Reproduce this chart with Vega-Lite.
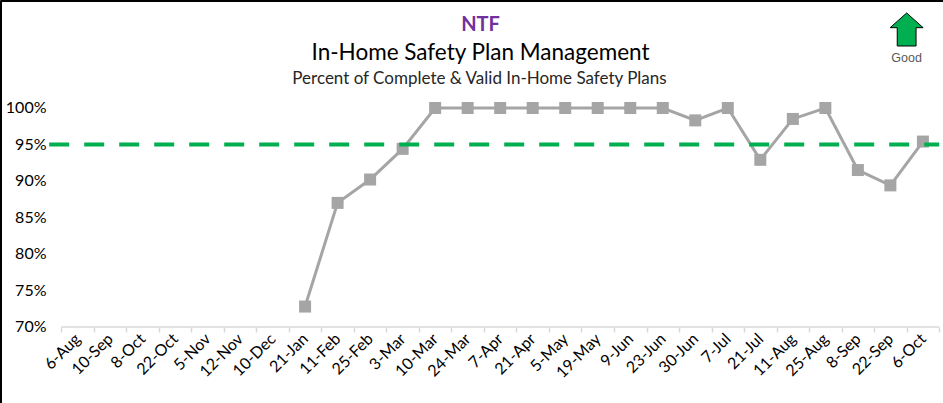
{
  "$schema": "https://vega.github.io/schema/vega-lite/v6.json",
  "width": 943,
  "height": 403,
  "autosize": {"type": "none"},
  "padding": 0,
  "background": "white",
  "config": {"view": {"stroke": null}, "font": "Lato"},
  "title": {
    "text": "NTF",
    "subtitle": "In-Home Safety Plan Management",
    "anchor": "middle",
    "frame": "group",
    "orient": "top",
    "offset": -64,
    "dx": 9,
    "font": "Lato",
    "fontSize": 20,
    "fontWeight": "bold",
    "color": "#7030A0",
    "subtitleFont": "Lato",
    "subtitleFontSize": 22.5,
    "subtitleColor": "#000000",
    "subtitlePadding": 7
  },
  "data": {
    "values": [
      {"week": "6-Aug", "pct": null},
      {"week": "10-Sep", "pct": null},
      {"week": "8-Oct", "pct": null},
      {"week": "22-Oct", "pct": null},
      {"week": "5-Nov", "pct": null},
      {"week": "12-Nov", "pct": null},
      {"week": "10-Dec", "pct": null},
      {"week": "21-Jan", "pct": 0.728},
      {"week": "11-Feb", "pct": 0.870},
      {"week": "25-Feb", "pct": 0.902},
      {"week": "3-Mar", "pct": 0.944},
      {"week": "10-Mar", "pct": 1.0},
      {"week": "24-Mar", "pct": 1.0},
      {"week": "7-Apr", "pct": 1.0},
      {"week": "21-Apr", "pct": 1.0},
      {"week": "5-May", "pct": 1.0},
      {"week": "19-May", "pct": 1.0},
      {"week": "9-Jun", "pct": 1.0},
      {"week": "23-Jun", "pct": 1.0},
      {"week": "30-Jun", "pct": 0.983},
      {"week": "7-Jul", "pct": 1.0},
      {"week": "21-Jul", "pct": 0.929},
      {"week": "11-Aug", "pct": 0.985},
      {"week": "25-Aug", "pct": 1.0},
      {"week": "8-Sep", "pct": 0.915},
      {"week": "22-Sep", "pct": 0.894},
      {"week": "6-Oct", "pct": 0.954}
    ]
  },
  "layer": [
    {
      "mark": {
        "type": "line",
        "color": "#A5A5A5",
        "strokeWidth": 3,
        "point": {"shape": "square", "size": 144, "filled": true, "color": "#A5A5A5", "opacity": 1}
      },
      "encoding": {
        "x": {
          "field": "week",
          "type": "nominal",
          "scale": {
            "domain": ["6-Aug","10-Sep","8-Oct","22-Oct","5-Nov","12-Nov","10-Dec","21-Jan","11-Feb","25-Feb","3-Mar","10-Mar","24-Mar","7-Apr","21-Apr","5-May","19-May","9-Jun","23-Jun","30-Jun","7-Jul","21-Jul","11-Aug","25-Aug","8-Sep","22-Sep","6-Oct"],
            "paddingInner": 0,
            "paddingOuter": 1.049,
            "align": 0.941
          },
          "axis": {
            "orient": "bottom",
            "offset": -76,
            "domain": false,
            "grid": false,
            "ticks": true,
            "tickBand": "extent",
            "tickColor": "#D9D9D9",
            "tickWidth": 1.5,
            "tickSize": 5,
            "labelAngle": -45,
            "labelAlign": "right",
            "labelBaseline": "middle",
            "labelPadding": 4,
            "labelFont": "Lato",
            "labelFontSize": 16,
            "labelColor": "#000000",
            "title": null
          }
        },
        "y": {
          "field": "pct",
          "type": "quantitative",
          "scale": {"domain": [0.5959, 1.1479], "nice": false, "zero": false},
          "axis": {
            "orient": "left",
            "values": [0.7, 0.75, 0.8, 0.85, 0.9, 0.95, 1.0],
            "format": ".0%",
            "domain": true,
            "domainColor": "#000000",
            "domainWidth": 3,
            "ticks": false,
            "tickSize": 0,
            "grid": false,
            "labelPadding": -46,
            "labelAlign": "right",
            "labelFont": "Lato",
            "labelFontSize": 16,
            "labelColor": "#000000",
            "title": null
          }
        }
      }
    },
    {
      "data": {"values": [{"base": 0.7}]},
      "mark": {"type": "rule", "color": "#D9D9D9", "strokeWidth": 1.5},
      "encoding": {
        "x": {"datum": "6-Aug", "bandPosition": 0, "axis": null,
          "scale": {
            "domain": ["6-Aug","10-Sep","8-Oct","22-Oct","5-Nov","12-Nov","10-Dec","21-Jan","11-Feb","25-Feb","3-Mar","10-Mar","24-Mar","7-Apr","21-Apr","5-May","19-May","9-Jun","23-Jun","30-Jun","7-Jul","21-Jul","11-Aug","25-Aug","8-Sep","22-Sep","6-Oct"],
            "paddingInner": 0, "paddingOuter": 1.049, "align": 0.941}},
        "x2": {"datum": "6-Oct", "bandPosition": 1},
        "y": {"field": "base", "type": "quantitative", "axis": null,
          "scale": {"domain": [0.5959, 1.1479], "nice": false, "zero": false}}
      }
    },
    {
      "data": {"values": [{"target": 0.95}]},
      "mark": {"type": "rule", "color": "#00B050", "strokeWidth": 4, "strokeDash": [20, 15]},
      "encoding": {
        "x": {"datum": "6-Aug", "bandPosition": 0,
          "scale": {
            "domain": ["6-Aug","10-Sep","8-Oct","22-Oct","5-Nov","12-Nov","10-Dec","21-Jan","11-Feb","25-Feb","3-Mar","10-Mar","24-Mar","7-Apr","21-Apr","5-May","19-May","9-Jun","23-Jun","30-Jun","7-Jul","21-Jul","11-Aug","25-Aug","8-Sep","22-Sep","6-Oct"],
            "paddingInner": 0, "paddingOuter": 1.049, "align": 0.941},
          "axis": {
            "orient": "top",
            "offset": 0,
            "domain": true,
            "domainColor": "#000000",
            "domainWidth": 3,
            "ticks": false,
            "labels": false,
            "grid": false,
            "title": "Percent of Complete & Valid In-Home Safety Plans",
            "titleFont": "Lato",
            "titleFontSize": 17,
            "titleFontWeight": "normal",
            "titleColor": "#262626",
            "titleX": 479,
            "titleY": 83,
            "titleAlign": "center",
            "titleBaseline": "alphabetic",
            "titleAngle": 0
          }
        },
        "xOffset": {"value": -12},
        "x2": {"datum": "6-Oct", "bandPosition": 1},
        "x2Offset": {"value": 4},
        "y": {"field": "target", "type": "quantitative", "axis": null,
          "scale": {"domain": [0.5959, 1.1479], "nice": false, "zero": false}}
      }
    },
    {
      "data": {"values": [{"note": "Good", "arrowLevel": 1.1075, "noteLevel": 1.0685}]},
      "mark": {
        "type": "point",
        "shape": "M 0 -1 L 1 -0.11 L 0.57 -0.11 L 0.57 1 L -0.57 1 L -0.57 -0.11 L -1 -0.11 Z",
        "size": 1089,
        "filled": true,
        "fill": "#00B050",
        "stroke": "#000000",
        "strokeWidth": 1,
        "opacity": 1
      },
      "encoding": {
        "x": {"datum": "6-Oct", "bandPosition": 0, "axis": null,
          "scale": {
            "domain": ["6-Aug","10-Sep","8-Oct","22-Oct","5-Nov","12-Nov","10-Dec","21-Jan","11-Feb","25-Feb","3-Mar","10-Mar","24-Mar","7-Apr","21-Apr","5-May","19-May","9-Jun","23-Jun","30-Jun","7-Jul","21-Jul","11-Aug","25-Aug","8-Sep","22-Sep","6-Oct"],
            "paddingInner": 0, "paddingOuter": 1.049, "align": 0.941}},
        "y": {"field": "arrowLevel", "type": "quantitative", "axis": null,
          "scale": {"domain": [0.5959, 1.1479], "nice": false, "zero": false}}
      }
    },
    {
      "data": {"values": [{"note": "Good", "arrowLevel": 1.1075, "noteLevel": 1.0685}]},
      "mark": {"type": "text", "font": "Liberation Sans", "fontSize": 12.5, "color": "#595959", "align": "center", "baseline": "middle"},
      "encoding": {
        "x": {"datum": "6-Oct", "bandPosition": 0, "axis": null,
          "scale": {
            "domain": ["6-Aug","10-Sep","8-Oct","22-Oct","5-Nov","12-Nov","10-Dec","21-Jan","11-Feb","25-Feb","3-Mar","10-Mar","24-Mar","7-Apr","21-Apr","5-May","19-May","9-Jun","23-Jun","30-Jun","7-Jul","21-Jul","11-Aug","25-Aug","8-Sep","22-Sep","6-Oct"],
            "paddingInner": 0, "paddingOuter": 1.049, "align": 0.941}},
        "y": {"field": "noteLevel", "type": "quantitative", "axis": null,
          "scale": {"domain": [0.5959, 1.1479], "nice": false, "zero": false}},
        "text": {"field": "note"}
      }
    }
  ],
  "resolve": {"axis": {"x": "independent", "y": "independent"}}
}
